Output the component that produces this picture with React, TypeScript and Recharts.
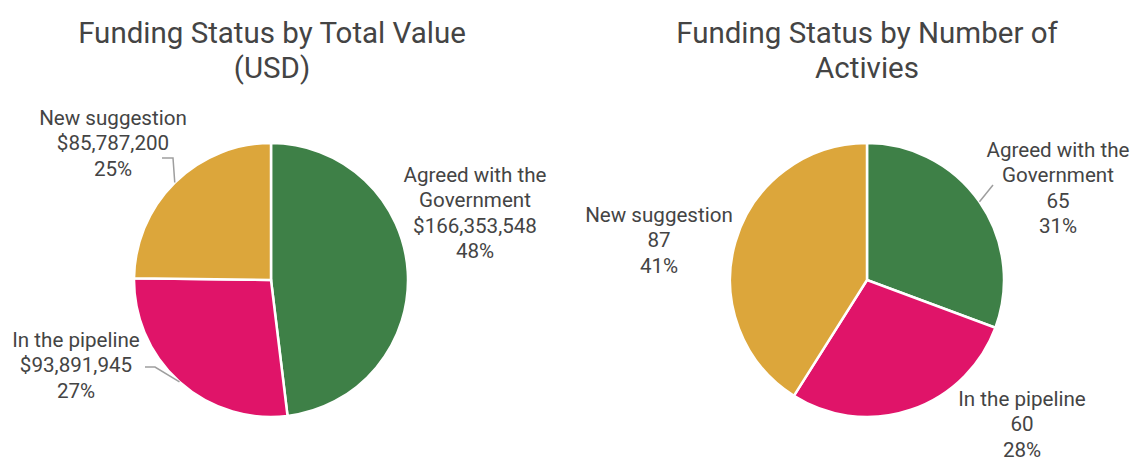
import { PieChart, Pie, Cell } from 'recharts';

const categories = ['Agreed with the Government', 'In the pipeline', 'New suggestion'];
const categoryLines = [['Agreed with the', 'Government'], ['In the pipeline'], ['New suggestion']];
const totalValueUsd = [166353548, 93891945, 85787200];
const activityCounts = [65, 60, 87];

const colors = ['#3E8047', '#E01469', '#DCA63B'];
const textColor = '#444444';
const font = 'Roboto, "Noto Sans", sans-serif';

const valueData = categories.map((name, i) => ({ name, value: totalValueUsd[i] }));
const countData = categories.map((name, i) => ({ name, value: activityCounts[i] }));

const RADIUS = 137;

type Layout = {
  cx: number;
  cy: number;
  offsets: [number, number][];
  leaders: ([number, number][] | null)[];
  format: (v: number) => string;
};

const leftLayout: Layout = {
  cx: 271,
  cy: 280,
  offsets: [[204, -98], [-195, 67], [-158, -155]],
  leaders: [null, [[-116, 87], [-126, 87]], [[-98, -122], [-109, -122]]],
  format: (v) => '$' + v.toLocaleString('en-US'),
};

const rightLayout: Layout = {
  cx: 867,
  cy: 280,
  offsets: [[191, -123], [155, 126], [-208, -58]],
  leaders: [[[126, -95]], null, null],
  format: (v) => String(v),
};

const RAD = Math.PI / 180;

function makeLabel(layout: Layout) {
  return (props: any) => {
    const { cx, cy, midAngle, outerRadius, index, value, percent } = props;
    const [dx, dy] = layout.offsets[index];
    const lines = [...categoryLines[index], layout.format(value), `${Math.round(percent * 100)}%`];
    const leader = layout.leaders[index];
    let path = null;
    if (leader) {
      const ex = cx + outerRadius * Math.cos(-midAngle * RAD);
      const ey = cy + outerRadius * Math.sin(-midAngle * RAD);
      const d =
        `M${ex},${ey} ` + leader.map(([px, py]) => `L${cx + px},${cy + py}`).join(' ');
      path = <path d={d} stroke="#9e9e9e" strokeWidth={1.5} fill="none" />;
    }
    return (
      <g key={`lbl-${index}`}>
        {path}
        <text
          x={cx + dx}
          y={cy + dy}
          textAnchor="middle"
          fill={textColor}
          fontSize={20.6}
          fontFamily={font}
        >
          {lines.map((l, i) => (
            <tspan key={i} x={cx + dx} dy={i === 0 ? 0 : 25.3}>
              {l}
            </tspan>
          ))}
        </text>
      </g>
    );
  };
}

function Title({ x, lines }: { x: number; lines: string[] }) {
  return (
    <text x={x} y={43} textAnchor="middle" fill={textColor} fontSize={29.5} fontFamily={font}>
      {lines.map((l, i) => (
        <tspan key={i} x={x} dy={i === 0 ? 0 : 35}>
          {l}
        </tspan>
      ))}
    </text>
  );
}

export default function App() {
  return (
    <div style={{ position: 'absolute', left: 0, top: 0, width: 1135, height: 459, background: '#fff' }}>
      <PieChart width={1135} height={459} margin={{ top: 0, right: 0, bottom: 0, left: 0 }}>
        <Pie
          data={valueData}
          dataKey="value"
          nameKey="name"
          cx={leftLayout.cx}
          cy={leftLayout.cy}
          outerRadius={RADIUS}
          startAngle={90}
          endAngle={-270}
          stroke="#ffffff"
          strokeWidth={2.5}
          label={makeLabel(leftLayout)}
          labelLine={false}
          isAnimationActive={false}
        >
          {valueData.map((d, i) => (
            <Cell key={d.name} fill={colors[i]} />
          ))}
        </Pie>
        <Pie
          data={countData}
          dataKey="value"
          nameKey="name"
          cx={rightLayout.cx}
          cy={rightLayout.cy}
          outerRadius={RADIUS}
          startAngle={90}
          endAngle={-270}
          stroke="#ffffff"
          strokeWidth={2.5}
          label={makeLabel(rightLayout)}
          labelLine={false}
          isAnimationActive={false}
        >
          {countData.map((d, i) => (
            <Cell key={d.name} fill={colors[i]} />
          ))}
        </Pie>
      </PieChart>
      <svg width={1135} height={100} style={{ position: 'absolute', left: 0, top: 0, pointerEvents: 'none' }}>
        <Title x={272} lines={['Funding Status by Total Value', '(USD)']} />
        <Title x={867} lines={['Funding Status by Number of', 'Activies']} />
      </svg>
    </div>
  );
}
